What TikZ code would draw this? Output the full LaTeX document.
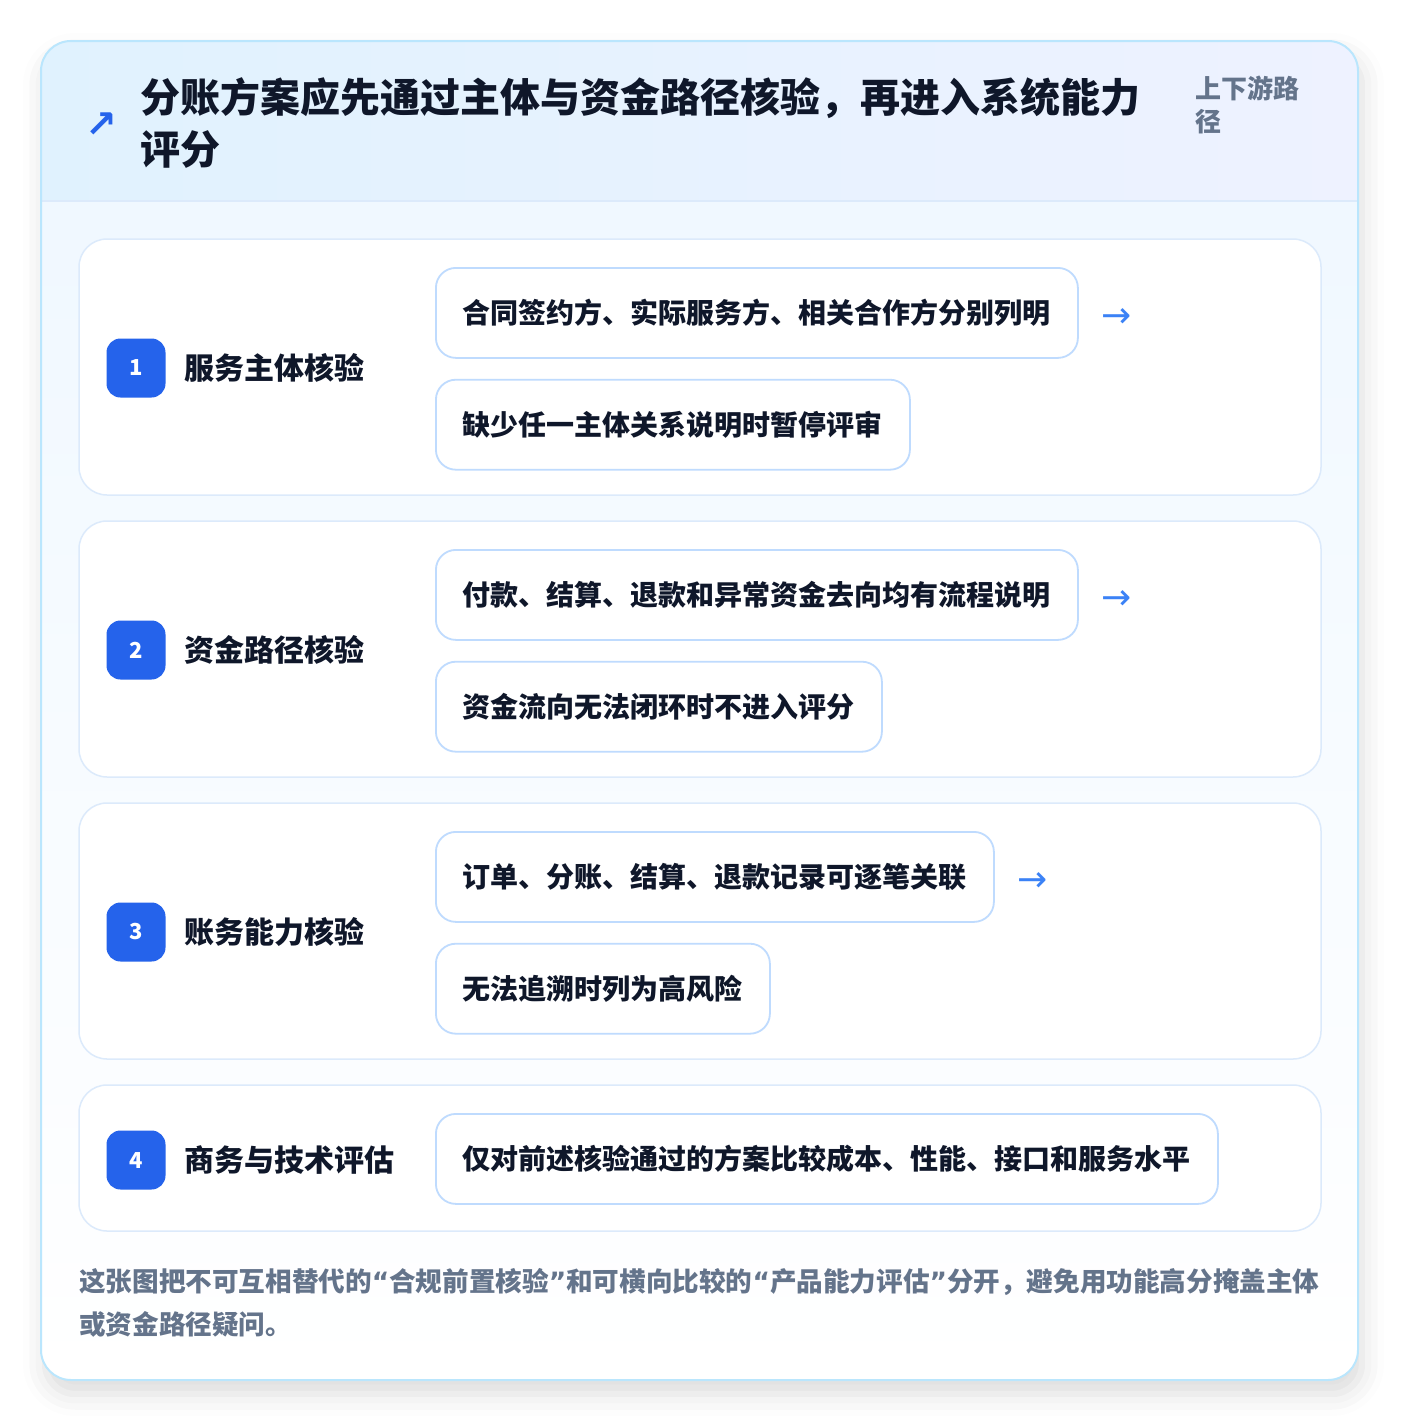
\documentclass[tikz,border=0pt]{standalone}
\usepackage{fontspec}
\setmainfont{Noto Sans CJK SC}
\newfontfamily\symfont{DejaVu Sans}
\usetikzlibrary{positioning,shadows.blur}
\definecolor{ink}{HTML}{0F172A}
\definecolor{muted}{HTML}{64748B}
\definecolor{badgeblue}{HTML}{2563EB}
\definecolor{arrowblue}{HTML}{3B82F6}
\definecolor{frameline}{HTML}{BAE6FD}
\definecolor{cardline}{HTML}{DCEAFB}
\definecolor{itemline}{HTML}{BFDBFE}
\definecolor{headleft}{HTML}{E0F2FE}
\definecolor{headright}{HTML}{EEF2FF}
\definecolor{bodytop}{HTML}{F0F8FF}
\newcommand\openq{{\symfont\bfseries “}}
\newcommand\closeq{{\symfont\bfseries ”}}

\begin{document}
\begin{tikzpicture}[x=1pt,y=-1pt,
  card/.style = {draw=cardline, line width=1.5pt, fill=white, rounded corners=28pt},
  badge/.style = {fill=badgeblue, rounded corners=14pt, minimum size=59pt, inner sep=0pt,
    text=white, font=\fontsize{22}{22}\selectfont\bfseries},
  steptitle/.style = {right=19pt of #1, inner sep=0pt, text=ink, font=\fontsize{30}{30}\selectfont\bfseries},
  item/.style = {draw=itemline, line width=1.8pt, fill=white, rounded corners=20pt,
    minimum height=90pt, inner xsep=27pt, anchor=north west, text=ink,
    font=\fontsize{28}{28}\selectfont\bfseries},
  more/.style = {right=22pt of #1, yshift=-5pt, inner sep=0pt, text=arrowblue,
    font=\symfont\fontsize{36}{36}\selectfont},
]
\useasboundingbox (0,0) rectangle (1400,1424);

% frame with header
\fill[white, rounded corners=30pt,
  blur shadow={shadow xshift=4pt, shadow yshift=-14pt, shadow blur radius=22pt, shadow opacity=14}]
  (41,41) rectangle (1358,1380);
\begin{scope}
  \clip[rounded corners=30pt] (41,41) rectangle (1358,1380);
  \fill[left color=headleft, right color=headright] (41,41) rectangle (1358,201);
  \fill[top color=bodytop, bottom color=white] (41,201) rectangle (1358,1380);
  \draw[cardline, line width=1.5pt] (41,201) -- (1358,201);
\end{scope}
\draw[frameline, line width=2pt, rounded corners=30pt] (41,41) rectangle (1358,1380);

\node[text=badgeblue, font=\symfont\bfseries\fontsize{38}{38}\selectfont] (icon) at (101,125) {↗};
\node[anchor=north west, inner sep=0pt, text=ink, align=left,
  font=\fontsize{40}{52}\selectfont\bfseries] (title) at (140,77)
  {分账方案应先通过主体与资金路径核验，再进入系统能力\\评分};
\node[anchor=north west, inner sep=0pt, text=muted, align=left,
  font=\fontsize{26}{33}\selectfont\bfseries] (tag) at (1195,76) {上下游路\\径};

% step cards
\draw[card] (79,239) rectangle (1321,495);
\draw[card] (79,521) rectangle (1321,777);
\draw[card] (79,803) rectangle (1321,1059);
\draw[card] (79,1085) rectangle (1321,1231);

% 1
\node[badge] (b1) at (136,368) {1};
\node[steptitle=b1] (t1) {服务主体核验};
\node[item] (11) at (435,267) {合同签约方、实际服务方、相关合作方分别列明};
\node[item, below right=20pt and 0pt of 11.south west] (12) {缺少任一主体关系说明时暂停评审};
\node[more=11] (a1) {→};

% 2
\node[badge] (b2) at (136,650) {2};
\node[steptitle=b2] (t2) {资金路径核验};
\node[item] (21) at (435,549) {付款、结算、退款和异常资金去向均有流程说明};
\node[item, below right=20pt and 0pt of 21.south west] (22) {资金流向无法闭环时不进入评分};
\node[more=21] (a2) {→};

% 3
\node[badge] (b3) at (136,932) {3};
\node[steptitle=b3] (t3) {账务能力核验};
\node[item] (31) at (435,831) {订单、分账、结算、退款记录可逐笔关联};
\node[item, below right=20pt and 0pt of 31.south west] (32) {无法追溯时列为高风险};
\node[more=31] (a3) {→};

% 4
\node[badge] (b4) at (136,1160) {4};
\node[steptitle=b4] (t4) {商务与技术评估};
\node[item] (41) at (435,1113) {仅对前述核验通过的方案比较成本、性能、接口和服务水平};

\node[anchor=north west, inner sep=0pt, text=muted, align=left,
  font=\fontsize{26.6}{43}\selectfont\bfseries] (note) at (79,1268)
  {这张图把不可互相替代的\openq 合规前置核验\closeq 和可横向比较的\openq 产品能力评估\closeq 分开，避免用功能高分掩盖主体\\或资金路径疑问。};
\end{tikzpicture}
\end{document}
